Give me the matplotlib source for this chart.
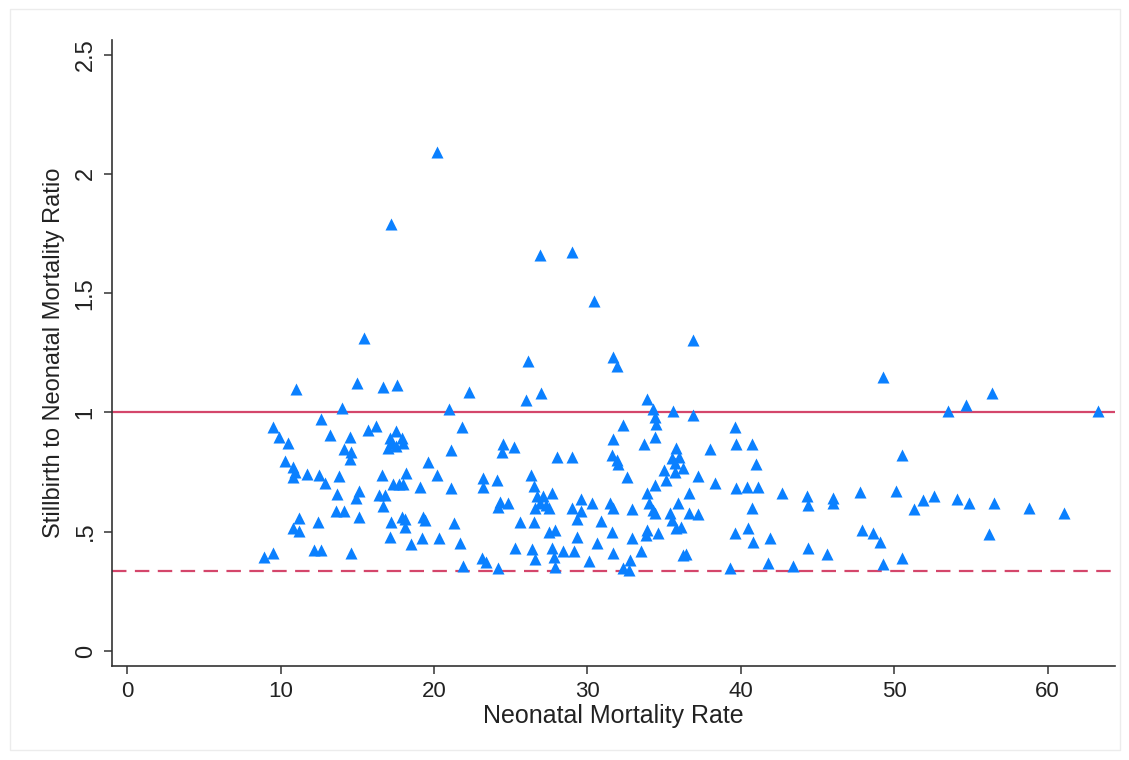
import matplotlib
matplotlib.use("Agg")
import matplotlib.pyplot as plt
from matplotlib.patches import Rectangle

plt.rcParams["font.family"] = ["Liberation Sans", "DejaVu Sans"]

# neonatal mortality rate (x) and stillbirth / neonatal mortality ratio (y)
nmr = [
    15.4, 11.0, 15.0, 14.0, 12.6, 9.5, 9.9, 10.5, 13.2, 14.5, 15.7, 16.2,
    14.1, 14.6, 14.5, 10.3, 10.8, 10.8, 10.9, 11.7, 12.5, 12.9, 13.8, 13.7,
    15.1, 14.9, 13.6, 14.1, 15.1, 11.2, 10.8, 11.2, 12.4, 8.9, 9.5, 12.2,
    12.6, 14.6,
    16.7, 17.6, 22.3, 21.0, 21.8, 17.5, 17.1, 17.9, 17.2, 17.5, 18.0, 17.0,
    21.1, 19.6, 16.6, 18.2, 20.2, 17.3, 17.7, 18.0, 19.1, 21.1, 23.2, 23.2,
    24.1, 16.4, 16.8, 16.7, 24.2, 17.9, 18.1, 17.2, 19.3, 19.4, 18.1, 21.3,
    17.1, 18.5, 19.2, 20.3, 21.7, 21.9, 23.1, 23.4, 24.2,
    26.1, 31.7, 31.9, 27.0, 26.0, 32.3, 31.7, 24.5, 25.2, 24.4, 31.6, 31.9,
    32.0, 28.0, 29.0, 32.6, 26.3, 26.5, 26.7, 27.1, 26.9, 27.3, 26.6, 27.5,
    27.7, 24.3, 24.8, 29.6, 30.3, 29.0, 29.6, 29.3, 31.5, 31.7, 25.6, 26.5,
    27.5, 27.9, 30.9, 31.6, 29.3, 25.3, 26.4, 26.6, 27.7, 27.8, 27.9, 28.4,
    29.1, 30.1, 30.6, 31.7, 32.3,
    36.9, 33.9, 34.3, 34.4, 34.5, 35.6, 36.9, 39.6, 39.7, 34.4, 33.7, 40.7,
    35.8, 35.5, 36.0, 35.7, 36.2, 35.7, 35.0, 38.0, 35.1, 34.4, 37.2, 38.3,
    33.9, 39.7, 40.4, 36.6, 35.9, 34.0, 34.3, 34.4, 32.9, 40.7, 35.4, 35.5,
    35.8, 36.6, 37.2, 36.1, 33.9, 33.8, 34.6, 32.9, 39.6, 40.5, 40.8, 33.5,
    36.2, 36.4, 32.8, 39.3, 32.7,
    49.3, 41.0, 50.5, 41.1, 42.7, 44.3, 44.4, 46.0, 46.0, 47.8, 50.1, 51.9,
    51.3, 41.9, 47.9, 48.6, 49.1, 44.4, 45.6, 41.8, 43.4, 49.3, 50.5,
    56.4, 54.7, 53.5, 63.3, 52.6, 54.1, 54.9, 56.5, 56.2, 58.8, 61.1,
    20.2, 17.2, 26.9, 29.0, 30.4,
]
ratio = [
    1.31, 1.10, 1.125, 1.02, 0.974, 0.94, 0.896, 0.873, 0.906, 0.896, 0.927, 0.943,
    0.846, 0.832, 0.804, 0.798, 0.773, 0.731, 0.75, 0.742, 0.738, 0.703, 0.734, 0.658,
    0.672, 0.64, 0.585, 0.585, 0.56, 0.556, 0.514, 0.504, 0.542, 0.395, 0.412, 0.423,
    0.423, 0.41,
    1.106, 1.115, 1.087, 1.013, 0.938, 0.924, 0.892, 0.892, 0.87, 0.86, 0.87, 0.85,
    0.843, 0.794, 0.738, 0.745, 0.738, 0.70, 0.70, 0.70, 0.689, 0.682, 0.724, 0.689,
    0.717, 0.654, 0.654, 0.608, 0.605, 0.56, 0.552, 0.54, 0.56, 0.549, 0.519, 0.535,
    0.479, 0.447, 0.472, 0.472, 0.452, 0.356, 0.389, 0.375, 0.347,
    1.217, 1.231, 1.195, 1.083, 1.05, 0.948, 0.888, 0.868, 0.854, 0.836, 0.822, 0.80,
    0.784, 0.812, 0.815, 0.731, 0.738, 0.69, 0.65, 0.65, 0.62, 0.61, 0.60, 0.60,
    0.664, 0.626, 0.619, 0.636, 0.622, 0.598, 0.588, 0.552, 0.619, 0.598, 0.542, 0.542,
    0.50, 0.507, 0.546, 0.50, 0.477, 0.431, 0.426, 0.384, 0.431, 0.393, 0.353, 0.417,
    0.417, 0.379, 0.452, 0.412, 0.347,
    1.304, 1.055, 1.013, 0.98, 0.952, 1.004, 0.99, 0.94, 0.868, 0.896, 0.868, 0.868,
    0.85, 0.808, 0.815, 0.787, 0.766, 0.752, 0.76, 0.846, 0.717, 0.696, 0.734, 0.703,
    0.661, 0.682, 0.689, 0.661, 0.622, 0.619, 0.591, 0.577, 0.594, 0.598, 0.577, 0.549,
    0.514, 0.58, 0.574, 0.521, 0.507, 0.486, 0.493, 0.472, 0.493, 0.514, 0.458, 0.421,
    0.402, 0.407, 0.381, 0.347, 0.34,
    1.147, 0.784, 0.822, 0.686, 0.664, 0.65, 0.612, 0.64, 0.619, 0.668, 0.672, 0.633,
    0.594, 0.472, 0.507, 0.493, 0.458, 0.431, 0.407, 0.37, 0.356, 0.365, 0.389,
    1.08, 1.031, 1.008, 1.004, 0.65, 0.636, 0.622, 0.622, 0.49, 0.598, 0.577,
    2.092, 1.79, 1.66, 1.673, 1.468,
]

x_ticks = [0, 10, 20, 30, 40, 50, 60]
y_ticks = [0, 0.5, 1, 1.5, 2, 2.5]
y_tick_labels = ["0", ".5", "1", "1.5", "2", "2.5"]
ref_lines = [1.0, 1 / 3]

blue = "#0a80ff"
red = "#d4466b"

fig = plt.figure(figsize=(11.29, 7.6), dpi=100)
fig.patches.append(Rectangle((0.009, 0.013), 0.983, 0.975, transform=fig.transFigure,
                             fill=False, edgecolor="#ececec", linewidth=1))
ax = fig.add_axes([0.0992, 0.1237, 0.8884, 0.8233])

ax.axhline(ref_lines[0], color=red, linewidth=1.6, zorder=1)
ax.axhline(ref_lines[1], color=red, linewidth=1.6, dashes=(6.5, 3.8), zorder=1)
ax.scatter(nmr, ratio, marker="^", s=75, color=blue, linewidths=0, zorder=2)

ax.set_xlim(-1.0, 64.4)
ax.set_ylim(-0.063, 2.56)
ax.set_xticks(x_ticks)
ax.set_yticks(y_ticks)
ax.set_yticklabels(y_tick_labels, rotation=90, va="center")

for side in ("top", "right"):
    ax.spines[side].set_visible(False)
for side in ("left", "bottom"):
    ax.spines[side].set_color("#333333")
    ax.spines[side].set_linewidth(1.2)
ax.tick_params(axis="both", direction="out", length=6, width=1.1, color="#333333",
               labelcolor="#222222", pad=5)
ax.tick_params(axis="x", labelsize=16)
ax.tick_params(axis="y", labelsize=17)

ax.set_xlabel("Neonatal Mortality Rate", fontsize=18, color="#222222", labelpad=1)
ax.set_ylabel("Stillbirth to Neonatal Mortality Ratio", fontsize=17, color="#222222", labelpad=7)

fig.savefig("out.png", dpi=100)
